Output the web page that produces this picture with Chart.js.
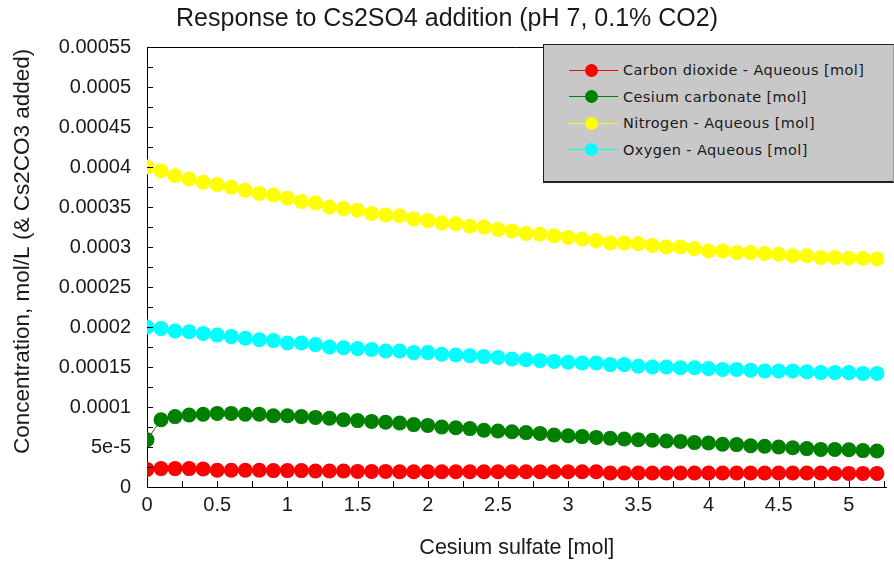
<!DOCTYPE html>
<html lang="en">
<head>
<meta charset="UTF-8">
<title>Response to Cs2SO4 addition</title>
<style>
  body { margin: 0; background: #fff; }
  .wrap { position: relative; width: 894px; height: 564px; }
  .legend {
    position: absolute; left: 543px; top: 44px; width: 349px; height: 136px;
    background: #c8c8c8; border: 1px solid #222; border-bottom: 2px solid #222; border-right-color: #999;
    font-family: 'DejaVu Sans', sans-serif; font-size: 14.5px; color: #1a1a1a;
  }
  .legend .row { position: absolute; left: 0; height: 20px; display: flex; align-items: center; }
  .legend .swatch { position: relative; width: 49px; height: 20px; margin-left: 25px; }
  .swatch .ln { position: absolute; left: 0; right: 0; top: 9.5px; height: 1px; }
  .swatch .dot { position: absolute; left: 16px; top: 3.5px; width: 13px; height: 13px; border-radius: 50%; }
  .legend .txt { margin-left: 5px; letter-spacing: 0.4px; white-space: nowrap; }
</style>
</head>
<body>
<div class="wrap">
  <canvas id="chart"></canvas>
  <div class="legend" id="legend"></div>
</div>

<script src="https://cdn.jsdelivr.net/npm/chart.js"></script>
<script>
// Cesium sulfate added [mol]
const xValues = [
  0, 0.1, 0.2, 0.3, 0.4, 0.5, 0.6, 0.7, 0.8, 0.9,
  1, 1.1, 1.2, 1.3, 1.4, 1.5, 1.6, 1.7, 1.8, 1.9,
  2, 2.1, 2.2, 2.3, 2.4, 2.5, 2.6, 2.7, 2.8, 2.9,
  3, 3.1, 3.2, 3.3, 3.4, 3.5, 3.6, 3.7, 3.8, 3.9,
  4, 4.1, 4.2, 4.3, 4.4, 4.5, 4.6, 4.7, 4.8, 4.9,
  5, 5.1, 5.2
];

const carbonDioxide = [
  2.2e-5, 2.3e-5, 2.3e-5, 2.3e-5, 2.25e-5, 2.1e-5, 2.1e-5, 2.1e-5, 2.1e-5, 2.05e-5,
  2.05e-5, 2.05e-5, 2.0e-5, 2.0e-5, 2.0e-5, 1.95e-5, 1.95e-5, 1.95e-5, 1.9e-5, 1.9e-5,
  1.9e-5, 1.9e-5, 1.9e-5, 1.9e-5, 1.9e-5, 1.9e-5, 1.9e-5, 1.9e-5, 1.9e-5, 1.9e-5,
  1.9e-5, 1.9e-5, 1.9e-5, 1.75e-5, 1.75e-5, 1.75e-5, 1.75e-5, 1.75e-5, 1.75e-5, 1.75e-5,
  1.75e-5, 1.75e-5, 1.75e-5, 1.75e-5, 1.75e-5, 1.75e-5, 1.75e-5, 1.75e-5, 1.75e-5, 1.7e-5,
  1.7e-5, 1.7e-5, 1.7e-5
];

const cesiumCarbonate = [
  5.9e-5, 8.4e-5, 8.8e-5, 9.0e-5, 9.1e-5, 9.2e-5, 9.2e-5, 9.1e-5, 9.1e-5, 8.9e-5,
  8.9e-5, 8.8e-5, 8.7e-5, 8.6e-5, 8.4e-5, 8.3e-5, 8.2e-5, 8.1e-5, 8.0e-5, 7.8e-5,
  7.7e-5, 7.5e-5, 7.4e-5, 7.3e-5, 7.1e-5, 7.0e-5, 6.9e-5, 6.8e-5, 6.7e-5, 6.5e-5,
  6.4e-5, 6.3e-5, 6.2e-5, 6.1e-5, 6.0e-5, 5.9e-5, 5.85e-5, 5.75e-5, 5.7e-5, 5.55e-5,
  5.5e-5, 5.35e-5, 5.3e-5, 5.15e-5, 5.1e-5, 5.0e-5, 4.9e-5, 4.8e-5, 4.7e-5, 4.7e-5,
  4.65e-5, 4.55e-5, 4.5e-5
];

const nitrogen = [
  0.000400, 0.000395, 0.000389, 0.000385, 0.000381, 0.000378, 0.000375, 0.000371, 0.000367, 0.000365,
  0.000361, 0.000357, 0.000355, 0.000350, 0.000348, 0.000346, 0.000342, 0.000340, 0.000339, 0.000335,
  0.000333, 0.000330, 0.000329, 0.000326, 0.000325, 0.000322, 0.000320, 0.000317, 0.000316, 0.000314,
  0.000312, 0.000310, 0.000308, 0.000305, 0.000305, 0.000304, 0.000302, 0.000300, 0.000300, 0.000298,
  0.000295, 0.000295, 0.000293, 0.000293, 0.000292, 0.000291, 0.000289, 0.000289, 0.000287, 0.000287,
  0.000286, 0.000286, 0.000285
];

const oxygen = [
  0.000200, 0.000198, 0.000195, 0.000194, 0.000192, 0.000190, 0.000188, 0.000186, 0.000184, 0.000183,
  0.000180, 0.000180, 0.000178, 0.000175, 0.000174, 0.000173, 0.000172, 0.000170, 0.000170, 0.000168,
  0.000168, 0.000166, 0.000165, 0.000164, 0.000163, 0.000162, 0.000160, 0.000159, 0.000158, 0.000157,
  0.000156, 0.000155, 0.000155, 0.000153, 0.000153, 0.000151, 0.000150, 0.000150, 0.000149, 0.000149,
  0.000148, 0.000147, 0.000147, 0.000146, 0.000145, 0.000145, 0.000145, 0.000144, 0.000143, 0.000143,
  0.000143, 0.000142, 0.000142
];

const seriesNames = [
  'Carbon dioxide - Aqueous [mol]',
  'Cesium carbonate [mol]',
  'Nitrogen - Aqueous [mol]',
  'Oxygen - Aqueous [mol]'
];
const seriesColors = ['#ff0000', '#008000', '#ffff00', '#00ffff'];
const seriesValues = [carbonDioxide, cesiumCarbonate, nitrogen, oxygen];

const datasets = seriesValues.map((vals, i) => ({
  label: seriesNames[i],
  data: vals.map((v, j) => ({ x: xValues[j], y: v })),
  borderColor: seriesColors[i],
  backgroundColor: seriesColors[i],
  pointBackgroundColor: seriesColors[i],
  pointBorderWidth: 0,
  pointRadius: 7.5,
  borderWidth: 1,
}));

// inward tick marks plus the top frame line
const axisFrame = {
  id: 'axisFrame',
  afterDatasetsDraw(chart) {
    const { ctx, chartArea: a, scales: { x, y } } = chart;
    ctx.save();
    ctx.strokeStyle = '#000';
    ctx.lineWidth = 1;
    ctx.beginPath();
    const top = Math.round(a.top) + 0.5;
    ctx.moveTo(a.left, top);
    ctx.lineTo(a.right, top);
    y.ticks.forEach(t => {
      const py = Math.round(y.getPixelForValue(t.value)) + 0.5;
      ctx.moveTo(a.left, py);
      ctx.lineTo(a.left + 6, py);
    });
    x.ticks.forEach(t => {
      const px = Math.round(x.getPixelForValue(t.value)) + 0.5;
      ctx.moveTo(px, a.bottom);
      ctx.lineTo(px, a.bottom - 6);
    });
    ctx.stroke();
    ctx.restore();
  }
};

const font = "'Liberation Sans', Arial, sans-serif";

new Chart(document.getElementById('chart'), {
  type: 'line',
  data: { datasets },
  plugins: [axisFrame],
  options: {
    responsive: true,
    maintainAspectRatio: false,
    animation: false,
    layout: { padding: 0 },
    plugins: {
      legend: { display: false },
      tooltip: { enabled: false },
      title: {
        display: true,
        text: 'Response to Cs2SO4 addition (pH 7, 0.1% CO2)',
        color: '#1a1a1a',
        font: { family: font, size: 25, weight: 'normal' },
        padding: { top: 4, bottom: 13 }
      }
    },
    scales: {
      x: {
        type: 'linear',
        min: 0,
        max: 5.268,
        afterFit: s => { s.height = 77; },
        grid: { display: false, drawTicks: false },
        border: { display: true, color: '#000', width: 1 },
        title: {
          display: true,
          text: 'Cesium sulfate [mol]',
          color: '#1a1a1a',
          font: { family: font, size: 21.5 },
          padding: { top: 0, bottom: 3 }
        },
        ticks: {
          stepSize: 0.25,
          includeBounds: false,
          autoSkip: false,
          maxRotation: 0,
          padding: 6,
          color: '#1a1a1a',
          font: { family: font, size: 20 },
          callback: v => (Math.round(v / 0.25) % 2 ? '' : String(parseFloat(v.toFixed(2))))
        }
      },
      y: {
        type: 'linear',
        min: 0,
        max: 0.00055,
        afterFit: s => { s.width = 147; },
        grid: { display: false, drawTicks: false },
        border: { display: true, color: '#000', width: 1 },
        title: {
          display: true,
          text: '     Concentration, mol/L (& Cs2CO3 added)',
          color: '#1a1a1a',
          font: { family: font, size: 22.5 },
          padding: { top: 9, bottom: 0 }
        },
        ticks: {
          stepSize: 0.000025,
          includeBounds: false,
          autoSkip: false,
          padding: 16,
          color: '#1a1a1a',
          font: { family: font, size: 20 },
          callback: v => {
            const k = Math.round(v / 0.000025);
            if (k % 2) return '';
            const n = parseFloat(v.toPrecision(6));
            if (n > 0 && n < 0.0001) return n.toExponential();
            return String(n);
          }
        }
      }
    }
  }
});

// legend box built from the same series arrays
const legend = document.getElementById('legend');
const rowTops = [15, 41.5, 68, 94.5];
seriesNames.forEach((name, i) => {
  const row = document.createElement('div');
  row.className = 'row';
  row.style.top = rowTops[i] + 'px';
  row.innerHTML =
    '<div class="swatch"><div class="ln" style="background:' + seriesColors[i] + '"></div>' +
    '<div class="dot" style="background:' + seriesColors[i] + '"></div></div>' +
    '<span class="txt"></span>';
  row.querySelector('.txt').textContent = name;
  legend.appendChild(row);
});
</script>
</body>
</html>
